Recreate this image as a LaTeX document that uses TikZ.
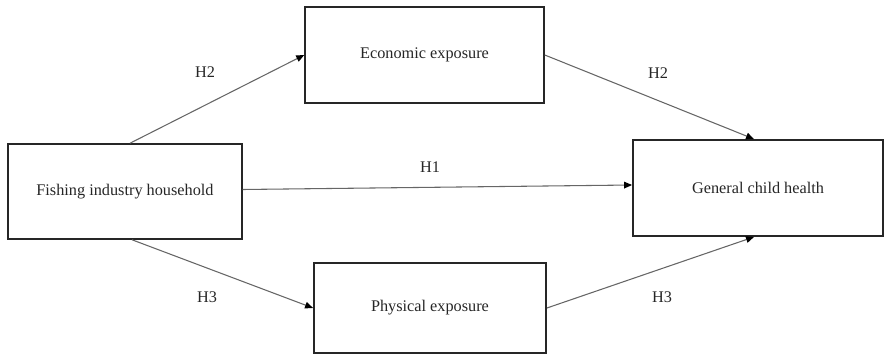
\documentclass[tikz,border=0pt]{standalone}
\usepackage{fontspec}
\setmainfont{Liberation Serif}
\usetikzlibrary{arrows.meta,calc}
\tikzset{
  box/.style={draw=black!85, line width=1.4pt, fill=white, inner sep=0pt, align=center,
    font=\fontsize{12.2}{14}\selectfont, text=black!85},
  link/.style={draw=black!60, line width=0.8pt, -{Triangle[length=6pt,width=5pt,fill=black,color=black]}},
  lab/.style={font=\fontsize{12.2}{14}\selectfont, text=black!85, inner sep=0pt}
}
\begin{document}
\begin{tikzpicture}[x=0.75pt,y=-0.75pt]
\useasboundingbox (0,0) rectangle (884,356);
\node[box, minimum width=175pt, minimum height=71pt] (fish) at (125,191.5) {Fishing industry household};
\node[box, minimum width=179pt, minimum height=72pt] (econ) at (424.5,55) {Economic exposure};
\node[box, minimum width=174pt, minimum height=67.5pt] (phys) at (430,308) {Physical exposure};
\node[box, minimum width=187.5pt, minimum height=72pt] (gch) at (758,188) {General child health};

\draw[link] ($(fish.north)+(5,0)$) -- (econ.west);
\draw[link] (econ.east) -- ($(gch.north)+(-4,0)$);
\draw[link] ($(fish.east)+(0,-2)$) -- ($(gch.west)+(0,-3)$);
\draw[link] ($(fish.south)+(7,0)$) -- (phys.west);
\draw[link] (phys.east) -- ($(gch.south)+(-4,0)$);

\node[lab] (h2a) at (205,72) {H2};
\node[lab] (h2b) at (658,73) {H2};
\node[lab] (h1) at (430,167) {H1};
\node[lab] (h3a) at (207,297) {H3};
\node[lab] (h3b) at (662,297) {H3};
\end{tikzpicture}
\end{document}
